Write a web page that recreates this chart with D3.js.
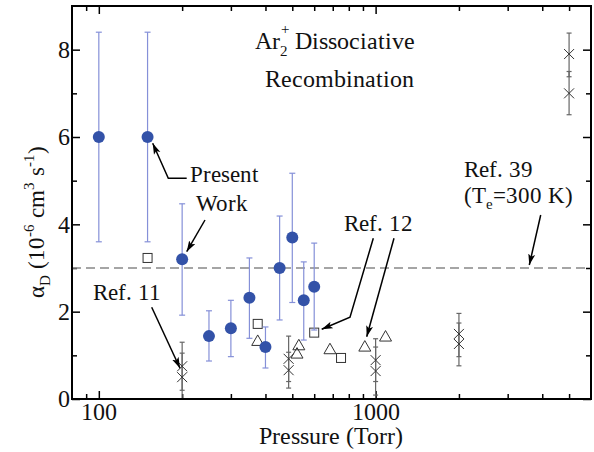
<!DOCTYPE html>
<html>
<head>
<meta charset="utf-8">
<script src="https://cdn.jsdelivr.net/npm/d3@7"></script>
<style>
  @font-face {
    font-family: "ChartSerif";
    src: local("Liberation Serif"), local("LiberationSerif"), local("LiberationSerif-Regular"),
         local("DejaVu Serif"), local("DejaVuSerif"), local("Times New Roman");
  }
  body { margin: 0; background: #fff; }
  svg text { font-family: "ChartSerif", "Liberation Serif", "DejaVu Serif", serif !important; fill: #111; }
</style>
</head>
<body>
<div id="chart-area"></div>
<script>
// Present work (blue circles with error bars)
const presentP = [100, 150, 200, 250, 300, 350, 400, 450, 500, 550, 600]
const presentA = [6.0, 6.0, 3.2, 1.44, 1.62, 2.32, 1.19, 3.0, 3.70, 2.26, 2.57]
const presentHi = [8.4, 8.4, 4.47, 2.02, 2.26, 3.23, 1.65, 4.19, 5.17, 3.14, 3.57]
const presentLo = [3.6, 3.6, 1.92, 0.87, 0.97, 1.39, 0.71, 1.81, 2.21, 1.35, 1.58]

// open squares
const squareP = [150, 375, 600, 750]
const squareA = [3.23, 1.72, 1.52, 0.94]

// open triangles
const triP = [375, 528, 520, 684, 914, 1086]
const triA = [1.33, 1.23, 1.04, 1.14, 1.20, 1.43]

// crosses with error bars
const crossP = [200, 200, 485, 485, 1000, 1000, 2000, 2000, 5000, 5000]
const crossA = [0.75, 0.5, 0.92, 0.66, 0.89, 0.64, 1.49, 1.26, 7.9, 7.0]
const crossHi = [1.30, 1.05, 1.44, 1.07, 1.38, 1.19, 1.96, 1.74, 8.38, 7.5]
const crossLo = [0.20, 0, 0.40, 0.25, 0.40, 0.09, 0.97, 0.76, 7.38, 6.51]

const ref39 = 3.0

const xMajor = [100, 1000]
const xMinor = [90, 200, 300, 400, 500, 600, 700, 800, 900, 2000, 3000, 4000, 5000]
const yMajor = [0, 2, 4, 6, 8]
const yMinor = [1, 3, 5, 7]

const W = 594, H = 452
const box = {left: 72, right: 591, top: 6, bottom: 399}
const serif = '"ChartSerif", "Liberation Serif", "DejaVu Serif", serif'

const svg = d3.select("#chart-area").append("svg")
    .attr("width", W)
    .attr("height", H)
    .attr("font-family", serif)

const x = d3.scaleLog().domain([80, 6000]).range([box.left, box.right])
const y = d3.scaleLinear().domain([0, 9]).range([box.bottom, box.top])

const defs = svg.append("defs")
defs.append("marker")
    .attr("id", "arrow")
    .attr("markerUnits", "userSpaceOnUse")
    .attr("markerWidth", 12)
    .attr("markerHeight", 8)
    .attr("refX", 11)
    .attr("refY", 4)
    .attr("orient", "auto")
  .append("path")
    .attr("d", "M0,0.5 L11,4 L0,7.5 L2.5,4 z")
    .attr("fill", "#000")

defs.append("clipPath").attr("id", "plot")
  .append("rect")
    .attr("x", box.left).attr("y", box.top)
    .attr("width", box.right - box.left).attr("height", box.bottom - box.top)

// Axes (ticks inside)
const axisStyle = g => {
    g.attr("font-family", serif)
    g.select(".domain").remove()
    g.selectAll(".tick line").attr("stroke", "#000").attr("stroke-width", 1.5)
    g.selectAll(".tick text")
        .attr("fill", "#111")
        .style("font-size", "24px")
}

svg.append("g").attr("transform", `translate(0,${box.bottom})`)
    .call(d3.axisBottom(x).tickValues(xMajor).tickFormat(d3.format("d")).tickSize(-8).tickPadding(4))
    .call(axisStyle)
svg.append("g").attr("transform", `translate(0,${box.bottom})`)
    .call(d3.axisBottom(x).tickValues(xMinor).tickFormat("").tickSize(-5))
    .call(axisStyle)
svg.append("g").attr("transform", `translate(0,${box.top})`)
    .call(d3.axisTop(x).tickValues(xMajor).tickFormat("").tickSize(-8))
    .call(axisStyle)
svg.append("g").attr("transform", `translate(0,${box.top})`)
    .call(d3.axisTop(x).tickValues(xMinor).tickFormat("").tickSize(-5))
    .call(axisStyle)

svg.append("g").attr("transform", `translate(${box.left},0)`)
    .call(d3.axisLeft(y).tickValues(yMajor).tickSize(-8).tickPadding(2))
    .call(axisStyle)
svg.append("g").attr("transform", `translate(${box.left},0)`)
    .call(d3.axisLeft(y).tickValues(yMinor).tickFormat("").tickSize(-5))
    .call(axisStyle)
svg.append("g").attr("transform", `translate(${box.right},0)`)
    .call(d3.axisRight(y).tickValues(yMajor).tickFormat("").tickSize(-8))
    .call(axisStyle)
svg.append("g").attr("transform", `translate(${box.right},0)`)
    .call(d3.axisRight(y).tickValues(yMinor).tickFormat("").tickSize(-5))
    .call(axisStyle)

// Ref. 39 dashed line
svg.append("line")
    .attr("x1", box.left).attr("x2", box.right)
    .attr("y1", y(ref39)).attr("y2", y(ref39))
    .attr("stroke", "#888")
    .attr("stroke-width", 1.5)
    .attr("stroke-dasharray", "9,5")

const plot = svg.append("g").attr("clip-path", "url(#plot)")

// error bar helper
const errorBars = (g, P, Hi, Lo, color, cap, width) => {
    const eb = g.append("g").attr("stroke", color).attr("stroke-width", width)
    P.forEach((p, i) => {
        const cx = x(p)
        eb.append("line").attr("x1", cx).attr("x2", cx).attr("y1", y(Hi[i])).attr("y2", y(Lo[i]))
        eb.append("line").attr("x1", cx - cap).attr("x2", cx + cap).attr("y1", y(Hi[i])).attr("y2", y(Hi[i]))
        eb.append("line").attr("x1", cx - cap).attr("x2", cx + cap).attr("y1", y(Lo[i])).attr("y2", y(Lo[i]))
    })
}

// crosses
errorBars(plot, crossP, crossHi, crossLo, "#666", 2.5, 1.2)
const crossSize = 5
plot.append("g").selectAll("path")
    .data(crossP)
    .join("path")
    .attr("d", (d, i) => {
        const cx = x(d), cy = y(crossA[i]), s = crossSize
        return `M${cx - s},${cy - s}L${cx + s},${cy + s}M${cx - s},${cy + s}L${cx + s},${cy - s}`
    })
    .attr("stroke", "#333")
    .attr("stroke-width", 1)
    .attr("fill", "none")

// squares
plot.append("g").selectAll("rect")
    .data(squareP)
    .join("rect")
    .attr("x", d => x(d) - 4.5)
    .attr("y", (d, i) => y(squareA[i]) - 4.5)
    .attr("width", 9).attr("height", 9)
    .attr("fill", "none")
    .attr("stroke", "#333")
    .attr("stroke-width", 1)

// triangles
plot.append("g").selectAll("path")
    .data(triP)
    .join("path")
    .attr("d", (d, i) => {
        const cx = x(d), cy = y(triA[i])
        return `M${cx},${cy - 6}L${cx + 6},${cy + 4.5}L${cx - 6},${cy + 4.5}Z`
    })
    .attr("fill", "none")
    .attr("stroke", "#333")
    .attr("stroke-width", 1)

// present work
errorBars(plot, presentP, presentHi, presentLo, "#8590d8", 3, 1.2)
plot.append("g").selectAll("circle")
    .data(presentP)
    .join("circle")
    .attr("cx", d => x(d))
    .attr("cy", (d, i) => y(presentA[i]))
    .attr("r", 6)
    .attr("fill", "#3352a8")

// frame
svg.append("rect")
    .attr("x", box.left).attr("y", box.top)
    .attr("width", box.right - box.left).attr("height", box.bottom - box.top)
    .attr("fill", "none")
    .attr("stroke", "#000")
    .attr("stroke-width", 2)

// Title
const title = svg.append("text").attr("x", 255).attr("y", 49).style("font-size", "24px")
title.append("tspan").text("Ar")
title.append("tspan").attr("dy", 7).style("font-size", "15px").text("2")
title.append("tspan").attr("dx", -7.5).attr("dy", -21).style("font-size", "15px").text("+")
title.append("tspan").attr("dy", 14).text(" Dissociative")
svg.append("text").attr("x", 339).attr("y", 87).attr("text-anchor", "middle")
    .style("font-size", "24px").text("Recombination")

// Axis labels
svg.append("text").attr("x", 331).attr("y", 444).attr("text-anchor", "middle")
    .style("font-size", "24px").text("Pressure (Torr)")

const yl = svg.append("text")
    .attr("transform", "translate(44,222) rotate(-90)")
    .attr("text-anchor", "middle")
    .style("font-size", "23px")
yl.append("tspan").text("α")
yl.append("tspan").attr("dy", 6).style("font-size", "15px").text("D")
yl.append("tspan").attr("dy", -6).text(" (10")
yl.append("tspan").attr("dy", -10).style("font-size", "15px").text("-6")
yl.append("tspan").attr("dy", 10).text(" cm")
yl.append("tspan").attr("dy", -10).style("font-size", "15px").text("3")
yl.append("tspan").attr("dy", 10).text(" s")
yl.append("tspan").attr("dy", -10).style("font-size", "15px").text("-1")
yl.append("tspan").attr("dy", 10).text(")")

// Annotations
const label = (tx, ty, str) => svg.append("text").attr("x", tx).attr("y", ty)
    .style("font-size", "23px").text(str)

label(190, 182, "Present")
label(196, 211, "Work")
label(93, 300, "Ref. 11")
label(344, 231, "Ref. 12")
label(464, 177, "Ref. 39")
const te = svg.append("text").attr("x", 464).attr("y", 203).style("font-size", "23px")
te.append("tspan").text("(T")
te.append("tspan").attr("dy", 6).style("font-size", "15px").text("e")
te.append("tspan").attr("dy", -6).text("=300 K)")

const arrows = [
    [[186.7, 178.3], [168.3, 178.3], [152.7, 143.3]],
    [[205, 220], [186.7, 251.7]],
    [[151.7, 307.3], [180, 368.3]],
    [[373.3, 238.3], [350, 317.3], [321.7, 329.3]],
    [[394, 238.3], [366.7, 336.7]],
    [[540.7, 215], [529.3, 265]]
]
svg.append("g").selectAll("path")
    .data(arrows)
    .join("path")
    .attr("d", d3.line())
    .attr("fill", "none")
    .attr("stroke", "#000")
    .attr("stroke-width", 1.5)
    .attr("marker-end", "url(#arrow)")
</script>
</body>
</html>
